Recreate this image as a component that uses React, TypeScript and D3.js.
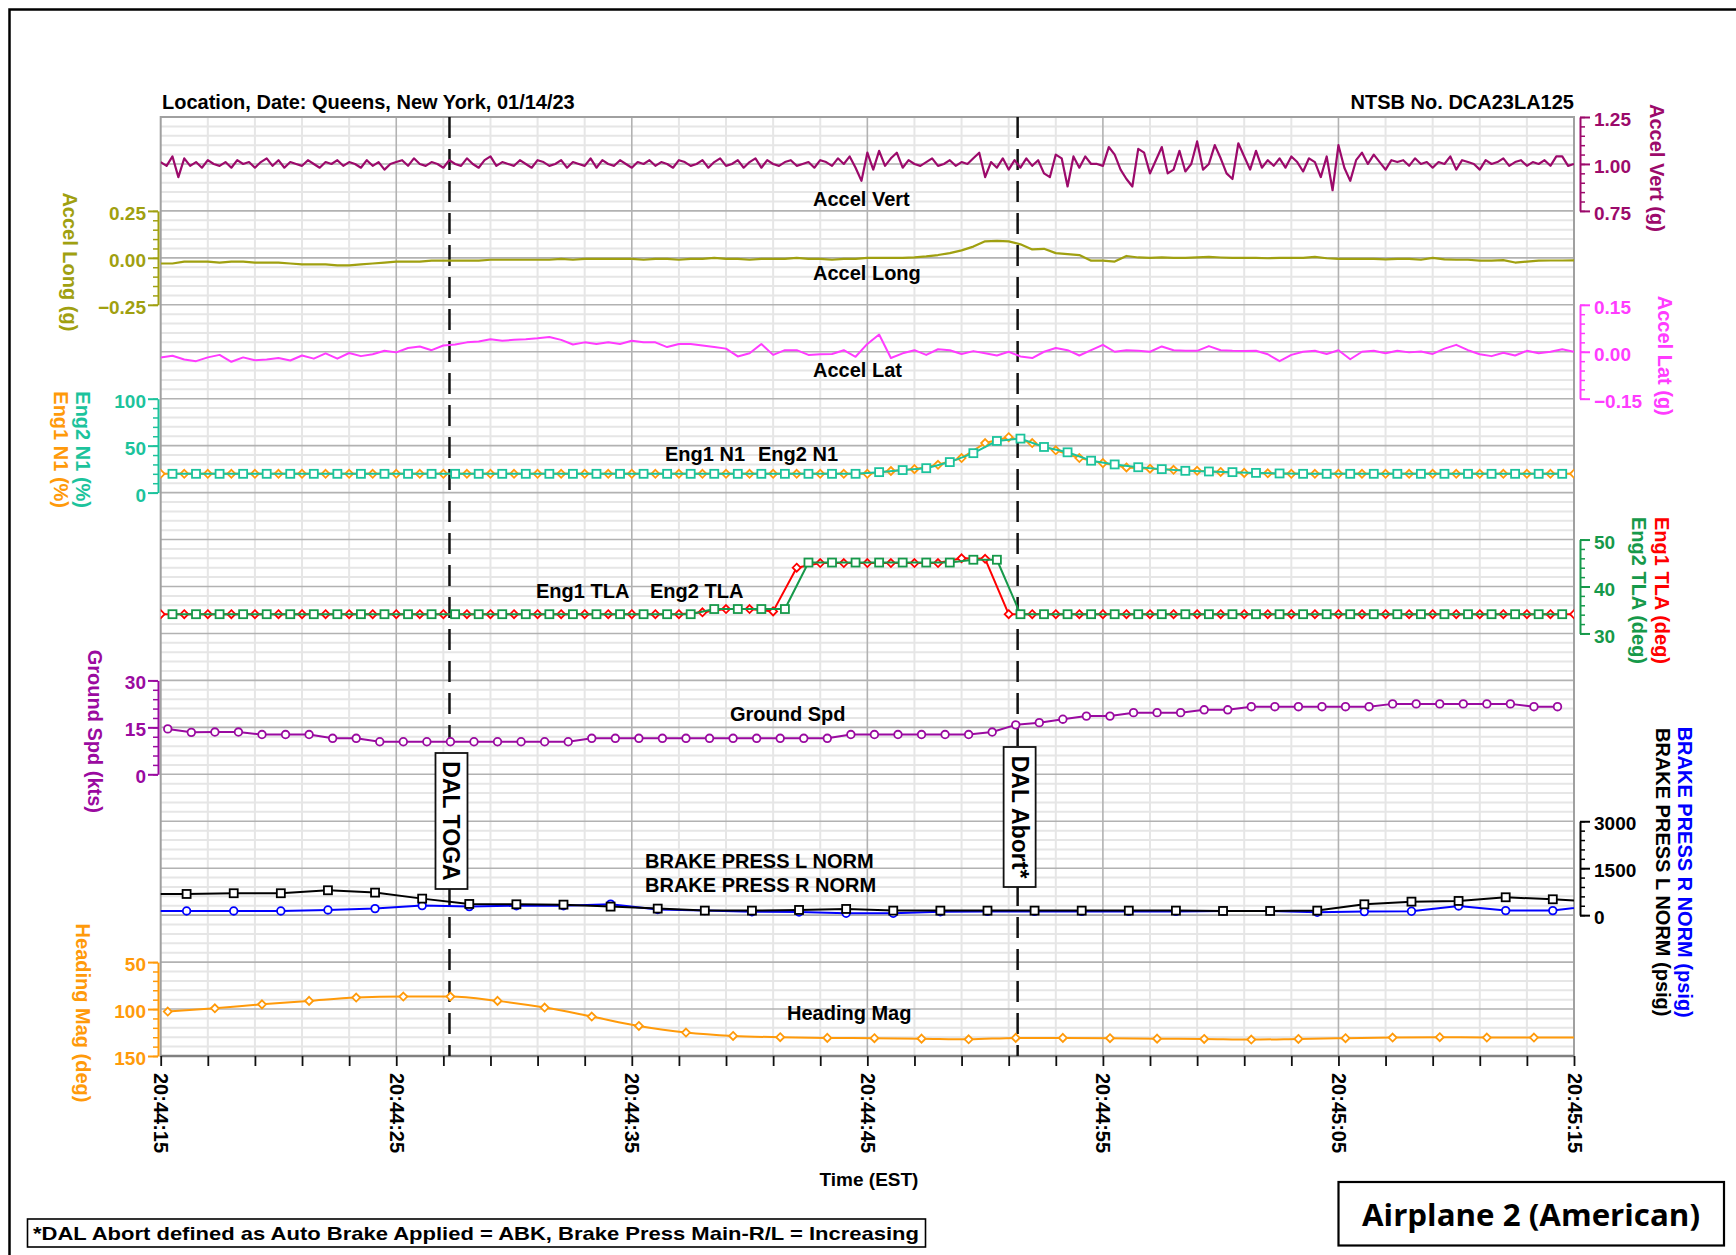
import { useEffect, useRef } from 'react';
import * as d3 from 'd3';

const FONT = '"Liberation Sans", Arial, Helvetica, sans-serif';

const C_VERT = '#9C0A6B';
const C_LONG = '#A0A010';
const C_LAT = '#FF3CFF';
const C_TEAL = '#1CC39C';
const C_ORANGE = '#FF9A0A';
const C_RED = '#FF0000';
const C_GREEN = '#16994A';
const C_PURPLE = '#9A0AA0';
const C_BLUE = '#0000FF';

const TIME_LABELS = ['20:44:15', '20:44:25', '20:44:35', '20:44:45', '20:44:55', '20:45:05', '20:45:15'];

// Accel Vert (g), 4 Hz from 20:44:15
const accelVert = [
  1.01, 0.99, 1.04, 0.93, 1.03, 0.99, 1.01, 0.98, 1.02, 1.0, 0.99, 1.01, 0.98, 1.02, 1.0, 1.01, 0.98, 1.01, 1.03, 0.99,
  1.02, 0.98, 1.01, 1.0, 0.99, 1.02, 1.0, 0.98, 1.01, 1.0, 1.02, 0.99, 1.01, 1.0, 0.98, 1.02, 0.99, 1.01, 0.97, 1.0,
  1.01, 1.02, 0.99, 1.03, 1.0, 0.99, 1.01, 1.0, 0.98, 1.02, 1.0, 0.99, 1.03, 1.0, 0.98, 1.02, 1.04, 0.99, 1.01, 1.0,
  0.99, 1.02, 1.0, 0.98, 1.02, 1.01, 0.99, 1.0, 1.02, 0.98, 1.01, 1.0, 0.99, 1.03, 0.98, 1.02, 1.0, 0.99, 1.02, 1.0,
  0.98, 1.01, 1.0, 1.02, 0.99, 1.01, 1.0, 0.98, 1.02, 1.01, 0.99, 1.0, 1.02, 0.98, 1.01, 1.03, 0.99, 1.0, 1.02, 0.98,
  1.01, 1.03, 0.98, 1.02, 1.0, 0.99, 1.01, 1.02, 0.99, 1.0, 1.01, 0.98, 1.02, 1.01, 0.99, 1.03, 1.0, 1.04, 0.98, 0.91,
  1.06, 0.97, 1.07, 0.99, 1.03, 1.06, 0.98, 1.02, 1.0, 0.99, 1.01, 1.03, 0.99, 1.0, 1.02, 0.99, 1.01, 1.0, 1.03, 1.06,
  0.93, 1.01, 0.98, 1.03, 0.97, 1.02, 0.98, 1.03, 0.99, 1.02, 0.95, 0.93, 1.05, 1.03, 0.88, 1.04, 0.98, 1.04, 1.0, 1.0,
  0.99, 1.09, 1.05, 0.97, 0.92, 0.88, 1.08, 1.06, 0.95, 1.02, 1.09, 0.95, 0.97, 1.07, 0.96, 1.0, 1.12, 0.97, 1.0, 1.1,
  1.03, 0.95, 0.92, 1.11, 1.04, 0.97, 1.07, 0.98, 1.02, 0.99, 1.03, 0.98, 1.04, 1.01, 0.96, 1.03, 1.01, 0.93, 1.04, 0.86,
  1.1, 0.98, 0.91, 1.02, 1.06, 1.0, 1.05, 1.01, 0.97, 1.02, 1.01, 1.02, 0.99, 1.03, 1.0, 1.01, 0.98, 1.01, 1.0, 1.04,
  0.97, 1.02, 1.01, 1.0, 0.97, 1.02, 1.0, 1.01, 1.03, 0.99, 1.01, 1.02, 0.99, 1.01, 1.0, 1.02, 0.99, 1.04, 1.04, 0.99, 1.0,
];

// Accel Long (g), 2 Hz
const accelLong = [
  -0.03, -0.03, -0.02, -0.02, -0.02, -0.025, -0.02, -0.02, -0.025, -0.025, -0.025, -0.03, -0.035, -0.035, -0.035, -0.04, -0.04, -0.035, -0.03, -0.025,
  -0.02, -0.02, -0.02, -0.015, -0.015, -0.015, -0.015, -0.015, -0.01, -0.01, -0.01, -0.01, -0.01, -0.01, -0.005, -0.01, -0.005, -0.005, -0.005, -0.005,
  -0.005, -0.01, -0.005, -0.005, -0.01, -0.005, -0.005, 0.0, -0.005, -0.005, -0.01, -0.005, -0.005, -0.005, 0.0, -0.005, -0.005, -0.01, -0.005, -0.005,
  0.0, 0.0, 0.0, 0.0, 0.003, 0.008, 0.015, 0.025, 0.04, 0.06, 0.088, 0.09, 0.088, 0.072, 0.045, 0.048, 0.025, 0.02, 0.015, -0.015,
  -0.015, -0.02, 0.01, 0.002, 0.0, 0.002, 0.0, 0.0, 0.002, 0.005, 0.002, 0.0, 0.0, 0.0, -0.002, 0.0, 0.0, 0.0, 0.005, -0.002,
  -0.005, -0.005, -0.005, -0.005, -0.008, -0.005, -0.005, -0.01, 0.0, -0.008, -0.01, -0.01, -0.015, -0.015, -0.012, -0.025, -0.02, -0.015, -0.014, -0.014, -0.013,
];

// Accel Lat (g), 2 Hz
const accelLat = [
  -0.018, -0.013, -0.025, -0.03, -0.018, -0.01, -0.032, -0.018, -0.027, -0.025, -0.02, -0.028, -0.012, -0.022, -0.005, -0.022, -0.004, -0.014, -0.008, 0.003,
  -0.002, 0.012, 0.017, 0.005, 0.02, 0.023, 0.03, 0.033, 0.04, 0.035, 0.038, 0.04, 0.043, 0.047, 0.038, 0.023, 0.03, 0.025, 0.03, 0.025,
  0.035, 0.03, 0.03, 0.015, 0.025, 0.025, 0.02, 0.015, 0.01, -0.015, -0.005, 0.025, -0.01, 0.005, 0.005, -0.01, -0.008, -0.007, 0.005, -0.016,
  0.025, 0.055, -0.02, -0.005, 0.005, -0.01, 0.008, 0.005, -0.007, 0.002, -0.005, -0.012, 0.0, -0.015, -0.02, 0.0, 0.012, 0.005, -0.012, 0.005,
  0.022, 0.0, 0.005, 0.003, 0.0, 0.017, 0.005, 0.003, 0.003, 0.018, 0.005, 0.003, 0.002, 0.003, -0.008, -0.03, -0.01, 0.0, 0.003, -0.007,
  0.005, -0.024, 0.0, 0.003, -0.005, 0.003, -0.002, 0.001, -0.007, 0.01, 0.022, 0.005, -0.008, -0.014, -0.003, -0.012, 0.003, -0.005, 0.0, 0.008, 0.0,
];

// Eng1 N1 (%), 1 Hz at whole seconds; Eng2 N1 (%), 1 Hz at half seconds
const eng1N1 = [
  20, 20, 20, 20, 20, 20, 20, 20, 20, 20, 20, 20, 20, 20, 20, 20, 20, 20, 20, 20,
  20, 20, 20, 20, 20, 20, 20, 20, 20, 20, 20, 23, 25, 29.6, 36.8, 52.8, 59, 52.8, 45, 36.8,
  31.4, 26.8, 25.4, 24.3, 23.2, 22, 21, 20.5, 20, 20, 20, 20, 20, 20, 20, 20, 20, 20, 20, 20, 20,
];
const eng2N1 = [
  20, 20, 20, 20, 20, 20, 20, 20, 20, 20, 20, 20, 20, 20, 20, 20, 20, 20, 20, 20,
  20, 20, 20, 20, 20, 20, 20, 20, 20, 20, 21.8, 24, 26, 32.5, 42, 55, 57.5, 48.6, 42.9, 34,
  30, 27, 25, 23.2, 22.5, 21.8, 21, 20.4, 20, 20, 20, 20, 20, 20, 20, 20, 20, 20, 20, 20,
];

// Eng1 TLA (deg) whole seconds; Eng2 TLA (deg) half seconds
const eng1Tla = [
  34.1, 34.1, 34.1, 34.1, 34.1, 34.1, 34.1, 34.1, 34.1, 34.1, 34.1, 34.1, 34.1, 34.1, 34.1, 34.1, 34.1, 34.1, 34.1, 34.1,
  34.1, 34.1, 34.1, 34.5, 35.2, 35.2, 34.7, 44, 45, 45, 45, 45, 45, 45, 46, 45.9, 34.1, 34.1, 34.1, 34.1,
  34.1, 34.1, 34.1, 34.1, 34.1, 34.1, 34.1, 34.1, 34.1, 34.1, 34.1, 34.1, 34.1, 34.1, 34.1, 34.1, 34.1, 34.1, 34.1, 34.1, 34.1,
];
const eng2Tla = [
  34.1, 34.1, 34.1, 34.1, 34.1, 34.1, 34.1, 34.1, 34.1, 34.1, 34.1, 34.1, 34.1, 34.1, 34.1, 34.1, 34.1, 34.1, 34.1, 34.1,
  34.1, 34.1, 34.1, 35.2, 35.2, 35.2, 35.2, 45.1, 45.1, 45.1, 45.1, 45.1, 45.1, 45.1, 45.7, 45.7, 34.1, 34.1, 34.1, 34.1,
  34.1, 34.1, 34.1, 34.1, 34.1, 34.1, 34.1, 34.1, 34.1, 34.1, 34.1, 34.1, 34.1, 34.1, 34.1, 34.1, 34.1, 34.1, 34.1, 34.1,
];

// Ground Spd (kts), 1 Hz starting 0.3 s
const groundSpd = [
  14.5, 13.4, 13.5, 13.5, 12.7, 12.7, 12.7, 11.5, 11.5, 10.4, 10.4, 10.4, 10.4, 10.4, 10.4, 10.4, 10.4, 10.4, 11.5, 11.5,
  11.5, 11.5, 11.5, 11.5, 11.5, 11.5, 11.5, 11.5, 11.5, 12.7, 12.7, 12.7, 12.7, 12.7, 12.7, 13.5, 15.8, 16.5, 17.6, 18.6,
  18.6, 19.7, 19.7, 19.7, 20.6, 20.6, 21.6, 21.6, 21.6, 21.6, 21.6, 21.6, 22.5, 22.5, 22.5, 22.5, 22.5, 22.5, 21.6, 21.6,
];

// Brake press (psig), 0.5 Hz starting -0.9 s
const brakeL = [
  680, 677, 700, 700, 795, 720, 528, 358, 347, 336, 273, 209, 145, 145, 166, 198,
  145, 145, 145, 145, 145, 145, 145, 134, 134, 145, 347, 432, 454, 571, 507, 420,
];
const brakeR = [
  134, 134, 134, 134, 166, 209, 305, 273, 300, 300, 350, 180, 145, 110, 100, 60,
  60, 110, 120, 120, 120, 120, 120, 134, 134, 92, 113, 124, 294, 145, 145, 330,
];

// Heading Mag (deg), 0.5 Hz starting 0.3 s
const headingMag = [
  102.7, 99.2, 95, 91.3, 87.8, 86.7, 86.7, 91.3, 98.4, 108, 118, 125, 128.6, 130, 130.7, 131,
  131.5, 132.2, 130.7, 130.7, 131, 131.5, 131.8, 132.5, 131.8, 131, 130.4, 130, 130.4, 130.4, 130.4,
];

const EVENT_NAMES = ['DAL TOGA', 'DAL Abort*'];
const EVENT_TIMES = [12.26, 36.38];

const X0 = 160.7;
const X1 = 1574;
const Y0 = 117;
const BAND = 46.95;
const yAt = (i: number) => Y0 + BAND * i;

const times = (n: number, start: number, step: number) => d3.range(n).map(i => start + i * step);

export default function App() {
  const svgRef = useRef<SVGSVGElement>(null);

  useEffect(() => {
    document.body.style.margin = '0';
    const svg = d3.select(svgRef.current);
    svg.selectAll('*').remove();

    const x = d3.scaleLinear().domain([0, 60]).range([X0, X1]);
    const Y1 = yAt(20);

    svg.append('defs').append('clipPath').attr('id', 'plotClip')
      .append('rect').attr('x', X0).attr('y', Y0).attr('width', X1 - X0).attr('height', Y1 - Y0);

    // outer frame
    svg.append('path').attr('d', `M9.5,1255 V9.5 H1736`).attr('fill', 'none').attr('stroke', '#000').attr('stroke-width', 2.5);

    // grid
    const grid = svg.append('g');
    for (let i = 0; i < 20; i++) {
      for (let j = 1; j < 5; j++) {
        const yy = yAt(i) + (BAND * j) / 5;
        grid.append('line').attr('x1', X0).attr('x2', X1).attr('y1', yy).attr('y2', yy)
          .attr('stroke', '#E6E6E6').attr('stroke-width', 2);
      }
    }
    d3.range(2, 60, 2).filter(t => t % 10 !== 0).forEach(t => {
      grid.append('line').attr('x1', x(t)).attr('x2', x(t)).attr('y1', Y0).attr('y2', Y1)
        .attr('stroke', '#E6E6E6').attr('stroke-width', 2);
    });
    for (let i = 1; i < 20; i++) {
      grid.append('line').attr('x1', X0).attr('x2', X1).attr('y1', yAt(i)).attr('y2', yAt(i))
        .attr('stroke', '#B2B2B2').attr('stroke-width', 1.6);
    }
    d3.range(10, 60, 10).forEach(t => {
      grid.append('line').attr('x1', x(t)).attr('x2', x(t)).attr('y1', Y0).attr('y2', Y1)
        .attr('stroke', '#B2B2B2').attr('stroke-width', 1.6);
    });
    grid.append('rect').attr('x', X0).attr('y', Y0).attr('width', X1 - X0).attr('height', Y1 - Y0)
      .attr('fill', 'none').attr('stroke', '#A0A0A0').attr('stroke-width', 2);
    grid.append('line').attr('x1', X0).attr('x2', X1).attr('y1', Y1).attr('y2', Y1)
      .attr('stroke', '#808080').attr('stroke-width', 2.5);

    // event lines
    EVENT_TIMES.forEach(t => {
      svg.append('line').attr('x1', x(t)).attr('x2', x(t)).attr('y1', Y0).attr('y2', Y1)
        .attr('stroke', '#111').attr('stroke-width', 2.5).attr('stroke-dasharray', '21,11');
    });

    // panel scales
    const yVert = d3.scaleLinear().domain([1.25, 0.75]).range([yAt(0), yAt(2)]);
    const yLong = d3.scaleLinear().domain([0.25, -0.25]).range([yAt(2), yAt(4)]);
    const yLat = d3.scaleLinear().domain([0.15, -0.15]).range([yAt(4), yAt(6)]);
    const yN1 = d3.scaleLinear().domain([100, 0]).range([yAt(6), yAt(8)]);
    const yTla = d3.scaleLinear().domain([50, 30]).range([yAt(9), yAt(11)]);
    const yGs = d3.scaleLinear().domain([30, 0]).range([yAt(12), yAt(14)]);
    const yBrake = d3.scaleLinear().domain([3000, 0]).range([yAt(15), yAt(17)]);
    const yHdg = d3.scaleLinear().domain([50, 150]).range([yAt(18), yAt(20)]);

    const data = svg.append('g').attr('clip-path', 'url(#plotClip)');
    type Opt = { color: string; width?: number; marker?: 'diamond' | 'square' | 'circle'; curve?: d3.CurveFactory };
    const addSeries = (ts: number[], vals: number[], y: d3.ScaleLinear<number, number>, opt: Opt) => {
      const pts: [number, number][] = ts.map((t, i) => [t, vals[i]]);
      const line = d3.line<[number, number]>().x(d => x(d[0])).y(d => y(d[1])).curve(opt.curve ?? d3.curveLinear);
      data.append('path').datum(pts).attr('d', line).attr('fill', 'none')
        .attr('stroke', opt.color).attr('stroke-width', opt.width ?? 2).attr('stroke-linejoin', 'round');
      if (!opt.marker) return;
      const inside = pts.filter(d => d[0] >= 0 && d[0] <= 60);
      const g = data.append('g').attr('fill', '#fff').attr('stroke', opt.color).attr('stroke-width', 1.8);
      inside.forEach(d => {
        const cx = x(d[0]);
        const cy = y(d[1]);
        if (opt.marker === 'square') {
          g.append('rect').attr('x', cx - 4).attr('y', cy - 4).attr('width', 8).attr('height', 8);
        } else if (opt.marker === 'circle') {
          g.append('circle').attr('cx', cx).attr('cy', cy).attr('r', 3.8);
        } else {
          g.append('path').attr('d', `M${cx},${cy - 4}L${cx + 4},${cy}L${cx},${cy + 4}L${cx - 4},${cy}Z`);
        }
      });
    };

    addSeries(times(accelVert.length, 0, 0.25), accelVert, yVert, { color: C_VERT, width: 2.2 });
    addSeries(times(accelLong.length, 0, 0.5), accelLong, yLong, { color: C_LONG, width: 2.2 });
    addSeries(times(accelLat.length, 0, 0.5), accelLat, yLat, { color: C_LAT, width: 2 });
    addSeries(times(eng1N1.length, 0, 1), eng1N1, yN1, { color: C_ORANGE, marker: 'diamond' });
    addSeries(times(eng2N1.length, 0.5, 1), eng2N1, yN1, { color: C_TEAL, marker: 'square' });
    addSeries(times(eng1Tla.length, 0, 1), eng1Tla, yTla, { color: C_RED, marker: 'diamond' });
    addSeries(times(eng2Tla.length, 0.5, 1), eng2Tla, yTla, { color: C_GREEN, marker: 'square' });
    addSeries(times(groundSpd.length, 0.3, 1), groundSpd, yGs, { color: C_PURPLE, marker: 'circle' });
    addSeries(times(brakeR.length, -0.9, 2), brakeR, yBrake, { color: C_BLUE, marker: 'circle' });
    addSeries(times(brakeL.length, -0.9, 2), brakeL, yBrake, { color: '#000', marker: 'square' });
    addSeries(times(headingMag.length, 0.3, 2), headingMag, yHdg, { color: C_ORANGE, marker: 'diamond', curve: d3.curveMonotoneX });

    // series names inside the plot
    const names: [string, number, number][] = [
      ['Accel Vert', 813, 206], ['Accel Long', 813, 280], ['Accel Lat', 813, 377],
      ['Eng1 N1', 665, 461], ['Eng2 N1', 758, 461],
      ['Eng1 TLA', 536, 598], ['Eng2 TLA', 650, 598],
      ['Ground Spd', 730, 721],
      ['BRAKE PRESS L NORM', 645, 868], ['BRAKE PRESS R NORM', 645, 892],
      ['Heading Mag', 787, 1020],
    ];
    svg.append('g').selectAll('text').data(names).enter().append('text')
      .attr('x', d => d[1]).attr('y', d => d[2]).text(d => d[0])
      .attr('font-family', FONT).attr('font-weight', 'bold').attr('font-size', 20).attr('fill', '#000');

    // event boxes
    EVENT_TIMES.forEach((t, k) => {
      const cx = x(t);
      const top = k === 0 ? 753 : 747;
      const h = k === 0 ? 136 : 140;
      svg.append('rect').attr('x', cx - 14).attr('y', top).attr('width', 32).attr('height', h)
        .attr('fill', '#fff').attr('stroke', '#111').attr('stroke-width', 1.8);
      svg.append('text').attr('transform', `translate(${cx + 2},${top + h / 2}) rotate(90)`)
        .attr('text-anchor', 'middle').attr('dy', '0.35em').text(EVENT_NAMES[k])
        .attr('font-family', FONT).attr('font-weight', 'bold').attr('font-size', 23).attr('fill', '#000');
    });

    // y axes
    type AxisDef = {
      side: 'left' | 'right'; y: d3.ScaleLinear<number, number>; ticks: number[]; minor: number;
      color: string; fmt: string; labels: [string, string, number][];
    };
    const axes: AxisDef[] = [
      { side: 'right', y: yVert, ticks: [1.25, 1.0, 0.75], minor: 0.05, color: C_VERT, fmt: '.2f', labels: [['Accel Vert (g)', C_VERT, 1657]] },
      { side: 'left', y: yLong, ticks: [0.25, 0, -0.25], minor: 0.05, color: C_LONG, fmt: '.2f', labels: [['Accel Long (g)', C_LONG, 70]] },
      { side: 'right', y: yLat, ticks: [0.15, 0, -0.15], minor: 0.03, color: C_LAT, fmt: '.2f', labels: [['Accel Lat (g)', C_LAT, 1665]] },
      { side: 'left', y: yN1, ticks: [100, 50, 0], minor: 10, color: C_TEAL, fmt: 'd', labels: [['Eng2 N1 (%)', C_TEAL, 83], ['Eng1 N1 (%)', C_ORANGE, 61]] },
      { side: 'right', y: yTla, ticks: [50, 40, 30], minor: 2, color: C_GREEN, fmt: 'd', labels: [['Eng2 TLA (deg)', C_GREEN, 1639], ['Eng1 TLA (deg)', C_RED, 1662]] },
      { side: 'left', y: yGs, ticks: [30, 15, 0], minor: 3, color: C_PURPLE, fmt: 'd', labels: [['Ground Spd (kts)', C_PURPLE, 95]] },
      { side: 'right', y: yBrake, ticks: [3000, 1500, 0], minor: 300, color: '#000', fmt: 'd', labels: [['BRAKE PRESS L NORM (psig)', '#000', 1663], ['BRAKE PRESS R NORM (psig)', C_BLUE, 1685]] },
      { side: 'left', y: yHdg, ticks: [50, 100, 150], minor: 10, color: C_ORANGE, fmt: 'd', labels: [['Heading Mag (deg)', C_ORANGE, 83]] },
    ];
    axes.forEach(a => {
      const [d0, d1] = a.y.domain();
      const lo = Math.min(d0, d1);
      const hi = Math.max(d0, d1);
      const minorVals = d3.range(0, Math.round((hi - lo) / a.minor) + 1).map(i => lo + i * a.minor);
      const ax = a.side === 'left' ? 158 : 1580;
      const mk = a.side === 'left' ? d3.axisLeft : d3.axisRight;
      const gMinor = svg.append('g').attr('transform', `translate(${ax},0)`)
        .call(mk(a.y).tickValues(minorVals).tickSize(5).tickSizeOuter(0).tickFormat(() => ''));
      gMinor.select('.domain').attr('stroke', a.color).attr('stroke-width', 2);
      gMinor.selectAll('.tick line').attr('stroke', a.color).attr('stroke-width', 1.5);
      const gMajor = svg.append('g').attr('transform', `translate(${ax},0)`)
        .call(mk(a.y).tickValues(a.ticks).tickSize(10).tickSizeOuter(0).tickPadding(a.side === 'left' ? 2 : 4)
          .tickFormat(d => d3.format(a.fmt)(d as number)));
      gMajor.select('.domain').remove();
      gMajor.selectAll('.tick line').attr('stroke', a.color).attr('stroke-width', 2);
      gMajor.selectAll('.tick text').attr('fill', a.color).attr('font-family', FONT)
        .attr('font-weight', 'bold').attr('font-size', 19).attr('dy', '0.45em');
      const cy = (a.y.range()[0] + a.y.range()[1]) / 2 + 4;
      a.labels.forEach(([txt, col, lx]) => {
        svg.append('text').attr('transform', `translate(${lx},${cy}) rotate(90)`)
          .attr('text-anchor', 'middle').attr('dy', '0.35em').text(txt)
          .attr('fill', col).attr('font-family', FONT).attr('font-weight', 'bold').attr('font-size', 20);
      });
    });

    // time axis
    const gx = svg.append('g').attr('transform', `translate(0,${Y1})`)
      .call(d3.axisBottom(x).tickValues(d3.range(0, 61, 2)).tickSize(10).tickSizeOuter(0).tickFormat(() => ''));
    gx.select('.domain').remove();
    gx.selectAll('.tick line').attr('stroke', '#111').attr('stroke-width', 1.8);
    const gxl = svg.append('g').attr('transform', `translate(0,${Y1})`)
      .call(d3.axisBottom(x).tickValues(d3.range(0, 61, 10)).tickSize(0).tickSizeOuter(0)
        .tickFormat((_, i) => TIME_LABELS[i]));
    gxl.select('.domain').remove();
    gxl.selectAll('.tick text').attr('transform', 'rotate(90)').attr('x', 17).attr('y', 0).attr('dy', '0.35em')
      .style('text-anchor', 'start').attr('fill', '#000').attr('font-family', FONT)
      .attr('font-weight', 'bold').attr('font-size', 20);

    const txt = (s: string, xx: number, yy: number, size: number, anchor = 'start') =>
      svg.append('text').attr('x', xx).attr('y', yy).text(s).attr('text-anchor', anchor)
        .attr('font-family', FONT).attr('font-weight', 'bold').attr('font-size', size).attr('fill', '#000');

    txt('Time (EST)', 869, 1186, 19, 'middle');
    txt('Location, Date: Queens, New York, 01/14/23', 162, 109, 20);
    txt('NTSB No. DCA23LA125', X1, 109, 20, 'end');

    svg.append('rect').attr('x', 27.5).attr('y', 1219).attr('width', 898).attr('height', 28)
      .attr('fill', '#fff').attr('stroke', '#000').attr('stroke-width', 1.6);
    txt('*DAL Abort defined as Auto Brake Applied = ABK, Brake Press Main-R/L = Increasing', 33, 1240, 19)
      .attr('textLength', 886).attr('lengthAdjust', 'spacingAndGlyphs');

    svg.append('rect').attr('x', 1338.5).attr('y', 1182).attr('width', 385.5).attr('height', 63.5)
      .attr('fill', '#fff').attr('stroke', '#000').attr('stroke-width', 2.2);
    svg.append('text').attr('x', 1531).attr('y', 1226).attr('text-anchor', 'middle').text('Airplane 2 (American)')
      .attr('font-family', '"Open Sans", Lato, sans-serif').attr('font-weight', 'bold').attr('font-size', 31)
      .attr('textLength', 338).attr('lengthAdjust', 'spacingAndGlyphs').attr('fill', '#000');
  }, []);

  return <svg ref={svgRef} width={1736} height={1255} style={{ display: 'block', background: '#fff' }} />;
}
